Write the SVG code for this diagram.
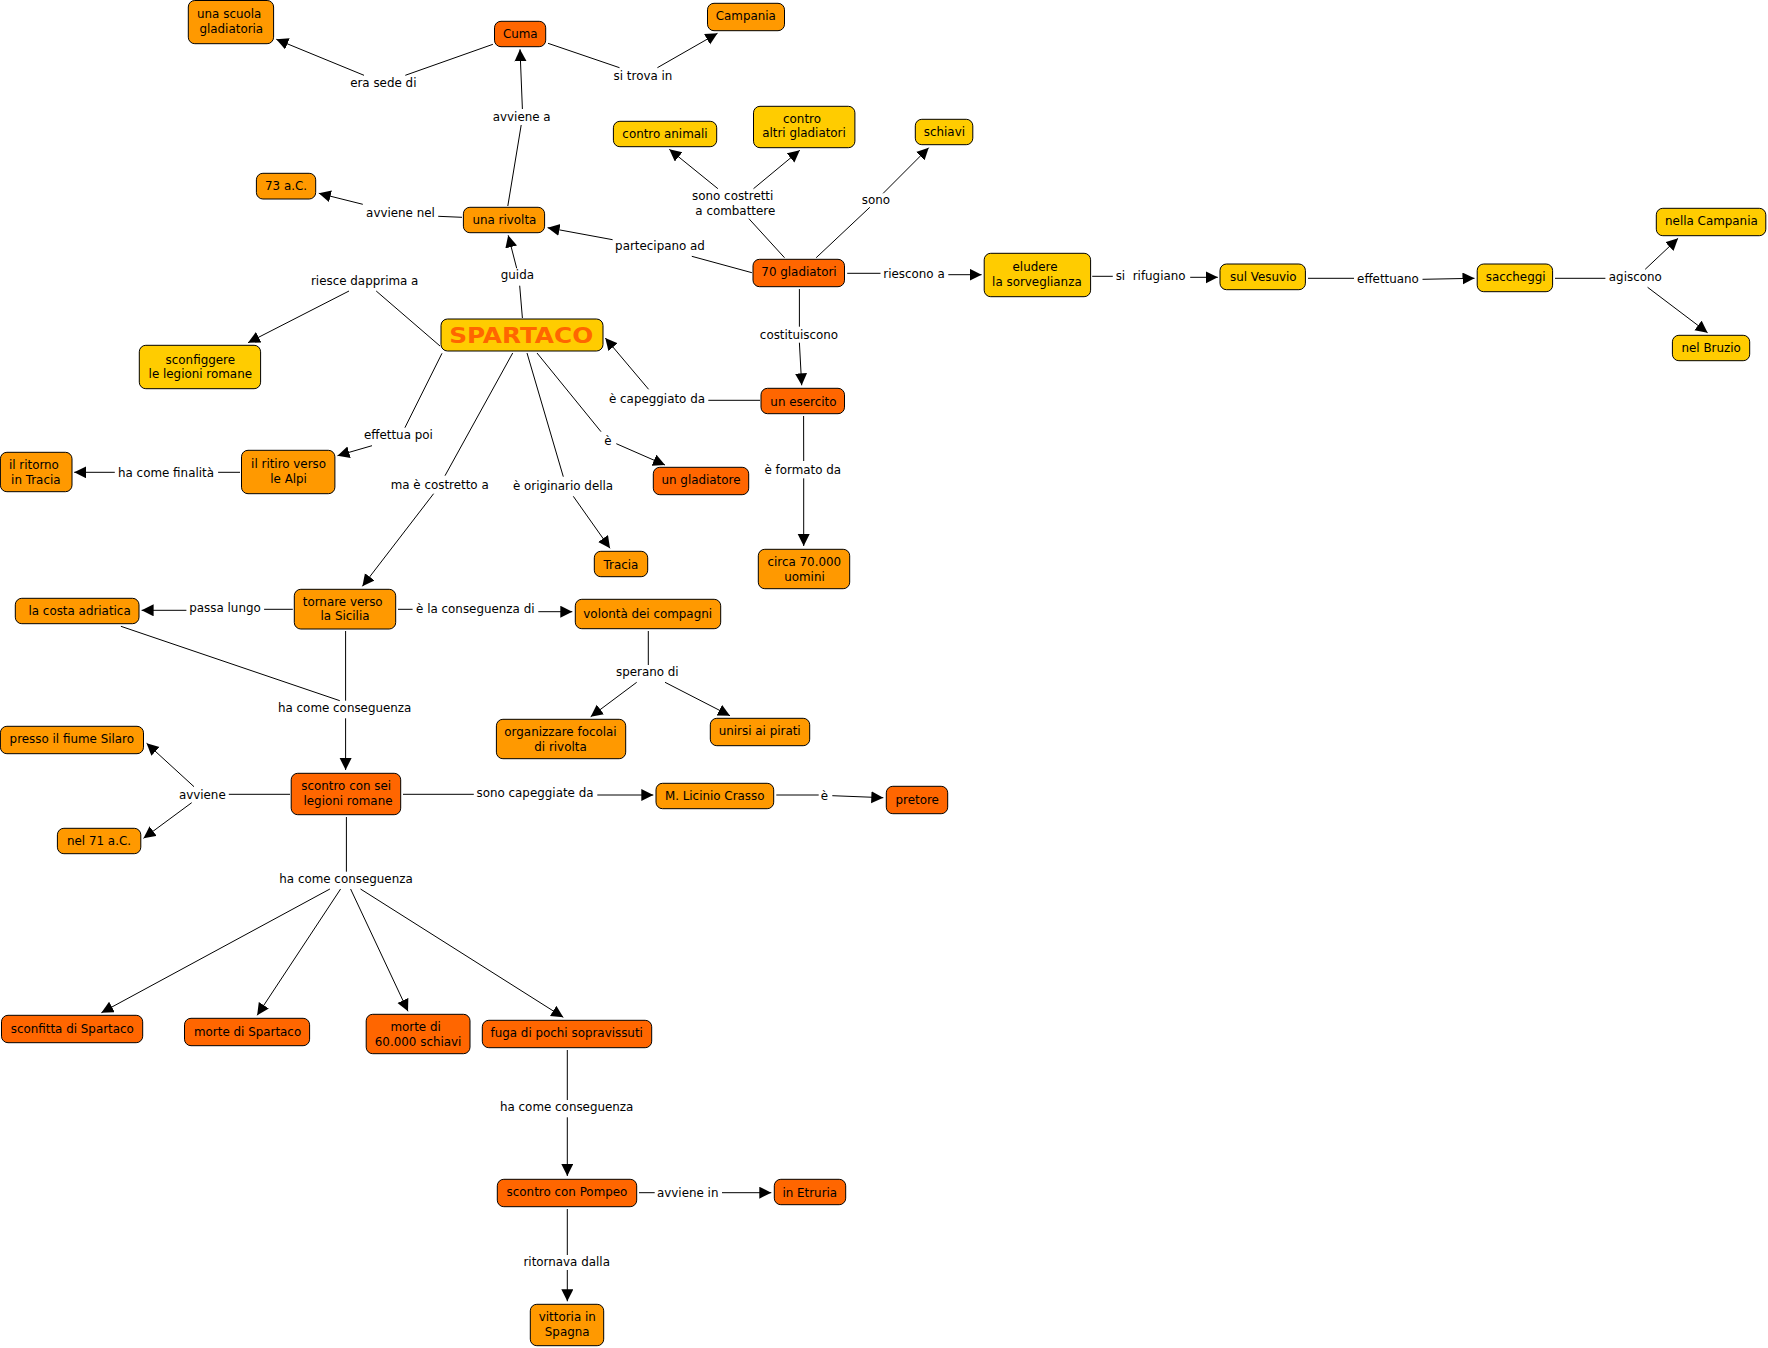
<svg xmlns="http://www.w3.org/2000/svg" width="1768" height="1348" viewBox="0 0 1768 1348">
<style>
text{font-family:"DejaVu Sans",Verdana,sans-serif;font-size:11.9px;fill:#000;text-anchor:middle}
rect{stroke:#000;stroke-width:1;rx:6.5px;ry:6.5px}
.r{fill:#ff6600}.o{fill:#ff9900}.y{fill:#ffcc00}
line{stroke:#000;stroke-width:1}
line.a{marker-end:url(#h)}
text.logo{font-family:"DejaVu Sans",sans-serif;font-weight:bold;font-size:21px;fill:#ff6600}
</style>
<defs><marker id="h" markerUnits="userSpaceOnUse" markerWidth="13" markerHeight="13" refX="12" refY="6" orient="auto"><path d="M0,0L12,6L0,12z" fill="#000"/></marker></defs>
<rect x="0" y="0" width="1768" height="1348" style="fill:#fff;stroke:none"/>
<g id="connectors">
<line x1="492.9" y1="44.3" x2="405.3" y2="75.3"/><line class="a" x1="364" y1="75.3" x2="276.3" y2="39.3"/>
<line x1="548" y1="43.3" x2="619.5" y2="67.7"/><line class="a" x1="657.4" y1="67.7" x2="717.5" y2="33.3"/>
<line x1="507.8" y1="206" x2="521.2" y2="125"/><line class="a" x1="522.4" y1="109" x2="520" y2="49.3"/>
<line x1="462" y1="217.3" x2="438.2" y2="216.3"/><line class="a" x1="362.8" y1="204.3" x2="318.8" y2="193.3"/>
<line x1="751.9" y1="272.7" x2="691.8" y2="256.3"/><line class="a" x1="612.6" y1="239.7" x2="547.6" y2="227.7"/>
<line x1="522.4" y1="318" x2="519.7" y2="285.7"/><line class="a" x1="516.7" y1="268.3" x2="508.2" y2="235.3"/>
<line x1="440" y1="346" x2="376.2" y2="291"/><line class="a" x1="349" y1="291" x2="248" y2="342.7"/>
<line x1="442" y1="353.3" x2="404.9" y2="427.7"/><line class="a" x1="372" y1="445.7" x2="337.5" y2="455.7"/>
<line x1="512.7" y1="353" x2="445" y2="475.7"/><line class="a" x1="433.6" y1="493.7" x2="362.4" y2="586.3"/>
<line x1="527" y1="353" x2="563.3" y2="476.7"/><line class="a" x1="573.3" y1="496.3" x2="610" y2="548.3"/>
<line x1="537" y1="353" x2="601" y2="431.7"/><line class="a" x1="616.3" y1="443.7" x2="665" y2="465"/>
<line x1="760" y1="400.3" x2="708.3" y2="400.3"/><line class="a" x1="648.6" y1="389.3" x2="605.3" y2="338"/>
<line x1="799.4" y1="289" x2="799.4" y2="326.7"/><line class="a" x1="799.4" y1="342.7" x2="801.7" y2="385.3"/>
<line x1="803.6" y1="416" x2="803.7" y2="461"/><line class="a" x1="803.7" y1="478.3" x2="803.7" y2="546"/>
<line x1="784.5" y1="257.7" x2="748.9" y2="218.7"/><line class="a" x1="717.9" y1="188.7" x2="669.3" y2="149.3"/><line class="a" x1="753.5" y1="188.7" x2="799.8" y2="150.3"/>
<line x1="816.2" y1="257.7" x2="869.8" y2="207.3"/><line class="a" x1="883.2" y1="193.3" x2="928.7" y2="147.7"/>
<line x1="847.2" y1="273.3" x2="880.5" y2="273.3"/><line class="a" x1="948.3" y1="274.7" x2="981.6" y2="274.7"/>
<line x1="1092.2" y1="276.3" x2="1112.8" y2="276.3"/><line class="a" x1="1190.2" y1="277.3" x2="1217.8" y2="277.3"/>
<line x1="1308" y1="278.3" x2="1354" y2="278.3"/><line class="a" x1="1422.5" y1="279.3" x2="1474.5" y2="278.3"/>
<line x1="1555" y1="278.3" x2="1605.4" y2="278.3"/><line class="a" x1="1645.2" y1="269.3" x2="1678.1" y2="238.3"/><line class="a" x1="1647.6" y1="287.3" x2="1707.6" y2="332.7"/>
<line x1="240" y1="472.3" x2="218.1" y2="472.3"/><line class="a" x1="114.8" y1="472.3" x2="74.2" y2="472.3"/>
<line x1="292.8" y1="609.3" x2="264.1" y2="609.3"/><line class="a" x1="186.4" y1="610.3" x2="141.6" y2="610.3"/>
<line x1="398" y1="609.3" x2="412.6" y2="609.3"/><line class="a" x1="538.3" y1="611.7" x2="572.3" y2="611.7"/>
<line x1="345.6" y1="631" x2="345.6" y2="700.7"/><line x1="339.8" y1="700.7" x2="120.9" y2="626.3"/><line class="a" x1="345.6" y1="718.3" x2="345.6" y2="770"/>
<line x1="290" y1="794.3" x2="228.8" y2="794.3"/><line class="a" x1="194" y1="786.7" x2="146.6" y2="743.3"/><line class="a" x1="191.7" y1="802.7" x2="143.5" y2="838.3"/>
<line x1="403" y1="794.3" x2="473.8" y2="794.3"/><line class="a" x1="597.3" y1="795" x2="653.3" y2="795"/>
<line x1="776.3" y1="795" x2="818.7" y2="795"/><line class="a" x1="832.3" y1="795.7" x2="883.3" y2="797.7"/>
<line x1="648.3" y1="631" x2="648.3" y2="665"/><line class="a" x1="636.7" y1="682.3" x2="590.7" y2="716.7"/><line class="a" x1="665" y1="682.3" x2="730" y2="715.7"/>
<line x1="346.4" y1="817" x2="346.4" y2="871.7"/><line class="a" x1="329.9" y1="889" x2="101.4" y2="1012.7"/><line class="a" x1="340.6" y1="889" x2="257.2" y2="1015.3"/><line class="a" x1="350.6" y1="889" x2="408" y2="1011.3"/><line class="a" x1="360.5" y1="889" x2="563.3" y2="1017.3"/>
<line x1="567.3" y1="1050" x2="567.3" y2="1100"/><line class="a" x1="567.3" y1="1117.3" x2="567.3" y2="1176"/>
<line x1="639" y1="1192.7" x2="654.7" y2="1192.7"/><line class="a" x1="722" y1="1192.7" x2="771.3" y2="1192.7"/>
<line x1="567.3" y1="1209" x2="567.3" y2="1255"/><line class="a" x1="567.3" y1="1270" x2="567.3" y2="1301.3"/>
</g>
<g id="connector-labels">
<text x="383.3" y="87.3">era sede di</text>
<text x="521.7" y="121">avviene a</text>
<text x="643" y="80">si trova in</text>
<text x="400.5" y="217.3">avviene nel</text>
<text x="517.4" y="279.3">guida</text>
<text x="364.7" y="285.3">riesce dapprima a</text>
<text x="398.4" y="439.3">effettua poi</text>
<text x="660" y="250.3">partecipano ad</text>
<text x="732.7" y="200">sono costretti</text><text x="735.3" y="214.6">a combattere</text>
<text x="876" y="204.3">sono</text>
<text x="914" y="278">riescono a</text>
<text x="1150.6" y="280.3" xml:space="preserve">si  rifugiano</text>
<text x="799" y="339">costituiscono</text>
<text x="657" y="403">è capeggiato da</text>
<text x="608" y="445.3">è</text>
<text x="802.8" y="474">è formato da</text>
<text x="563" y="490">è originario della</text>
<text x="439.7" y="489">ma è costretto a</text>
<text x="166" y="476.6">ha come finalità</text>
<text x="225" y="612.3">passa lungo</text>
<text x="475.3" y="613">è la conseguenza di</text>
<text x="344.7" y="712.3">ha come conseguenza</text>
<text x="202.3" y="799">avviene</text>
<text x="535" y="797.3">sono capeggiate da</text>
<text x="824.3" y="800">è</text>
<text x="647.3" y="676.3">sperano di</text>
<text x="346" y="883.3">ha come conseguenza</text>
<text x="566.7" y="1111.3">ha come conseguenza</text>
<text x="687.7" y="1197">avviene in</text>
<text x="566.7" y="1266.3">ritornava dalla</text>
<text x="1388" y="283.3">effettuano</text>
<text x="1635.3" y="281.3">agiscono</text>
</g>
<g id="una-scuola"><rect class="o" x="188.3" y="0.5" width="85.3" height="43.2"/><text x="229.2" y="18.3">una scuola</text><text x="231.3" y="33">gladiatoria</text></g>
<g id="cuma"><rect class="r" x="494.5" y="21.3" width="51.2" height="25.4"/><text x="520.3" y="38">Cuma</text></g>
<g id="campania"><rect class="o" x="707.5" y="3.3" width="77" height="27.4"/><text x="745.8" y="20">Campania</text></g>
<g id="anno73"><rect class="o" x="256.4" y="173.3" width="59.3" height="25.7"/><text x="286" y="190">73 a.C.</text></g>
<g id="rivolta"><rect class="o" x="463.4" y="207.3" width="81.2" height="25.4"/><text x="504.4" y="224.3">una rivolta</text></g>
<g id="sconfiggere"><rect class="y" x="139.3" y="345.3" width="121.3" height="43.4"/><text x="200.3" y="363.6">sconfiggere</text><text x="200.3" y="378.3">le legioni romane</text></g>
<g id="spartaco"><rect class="y" x="441" y="319" width="162" height="32"/><text class="logo" x="521.2" y="342.7" textLength="144" lengthAdjust="spacingAndGlyphs">SPARTACO</text></g>
<g id="contro-animali"><rect class="y" x="613.4" y="121.3" width="103.3" height="25.4"/><text x="665" y="138.3">contro animali</text></g>
<g id="contro-altri"><rect class="y" x="753.5" y="106.3" width="101.4" height="41.4"/><text x="802" y="122.6">contro</text><text x="804" y="137.3">altri gladiatori</text></g>
<g id="schiavi"><rect class="y" x="915.3" y="119.3" width="57.5" height="25.4"/><text x="944.4" y="136.3">schiavi</text></g>
<g id="gladiatori70"><rect class="r" x="753" y="259.3" width="91.5" height="27.4"/><text x="799" y="276.3">70 gladiatori</text></g>
<g id="eludere"><rect class="y" x="984.2" y="253.3" width="106.4" height="43.4"/><text x="1035" y="271.3">eludere</text><text x="1036.9" y="286">la sorveglianza</text></g>
<g id="esercito"><rect class="r" x="761" y="388.3" width="83.5" height="25.4"/><text x="803.4" y="406">un esercito</text></g>
<g id="vesuvio"><rect class="y" x="1220" y="264" width="85.4" height="25.7"/><text x="1263.3" y="281.3">sul Vesuvio</text></g>
<g id="saccheggi"><rect class="y" x="1477.2" y="264" width="75.4" height="27.7"/><text x="1515.7" y="281.3">saccheggi</text></g>
<g id="nella-campania"><rect class="y" x="1656.3" y="208.3" width="109.5" height="27.4"/><text x="1711.4" y="225.3">nella Campania</text></g>
<g id="bruzio"><rect class="y" x="1672.4" y="335.3" width="77.3" height="25.4"/><text x="1711.2" y="352.3">nel Bruzio</text></g>
<g id="ritorno"><rect class="o" x="0.4" y="452.3" width="71.6" height="39.4"/><text x="33.9" y="469.3">il ritorno</text><text x="35.8" y="484">in Tracia</text></g>
<g id="ritiro"><rect class="o" x="241.5" y="450.3" width="93.4" height="43.4"/><text x="288.6" y="468.3">il ritiro verso</text><text x="288.6" y="483">le Alpi</text></g>
<g id="tornare"><rect class="o" x="294.3" y="589.3" width="101.4" height="39.7"/><text x="342.7" y="605.6">tornare verso</text><text x="345" y="620.3">la Sicilia</text></g>
<g id="costa"><rect class="o" x="15.3" y="598.3" width="123.7" height="25.4"/><text x="79.6" y="615.3">la costa adriatica</text></g>
<g id="presso"><rect class="o" x="0.4" y="726.3" width="143.1" height="27.4"/><text x="71.8" y="743.3">presso il fiume Silaro</text></g>
<g id="scontro-sei"><rect class="r" x="291.2" y="773.3" width="109.5" height="41.4"/><text x="346.2" y="790.3">scontro con sei</text><text x="348" y="805">legioni romane</text></g>
<g id="nel71"><rect class="o" x="57.4" y="828.3" width="83.4" height="25.4"/><text x="99" y="845.3">nel 71 a.C.</text></g>
<g id="gladiatore"><rect class="r" x="653.3" y="467.3" width="95.4" height="27.4"/><text x="701" y="484.3">un gladiatore</text></g>
<g id="tracia"><rect class="o" x="594.3" y="551.3" width="53.4" height="25.4"/><text x="621" y="569">Tracia</text></g>
<g id="circa"><rect class="o" x="758.3" y="549.3" width="91.4" height="39.4"/><text x="804.3" y="566.3">circa 70.000</text><text x="804.5" y="581">uomini</text></g>
<g id="volonta"><rect class="o" x="575.3" y="599.3" width="145.4" height="29.4"/><text x="647.7" y="618.3">volontà dei compagni</text></g>
<g id="organizzare"><rect class="o" x="496.4" y="719.3" width="129.3" height="39.4"/><text x="560.5" y="736.3">organizzare focolai</text><text x="560.5" y="751">di rivolta</text></g>
<g id="pirati"><rect class="o" x="710.3" y="718.3" width="99.4" height="27.4"/><text x="759.7" y="735.3">unirsi ai pirati</text></g>
<g id="crasso"><rect class="o" x="656" y="783.3" width="117.7" height="25.4"/><text x="714.7" y="800">M. Licinio Crasso</text></g>
<g id="pretore"><rect class="r" x="886.3" y="786.3" width="61.4" height="27.4"/><text x="917.2" y="803.6">pretore</text></g>
<g id="sconfitta"><rect class="r" x="1.5" y="1015.3" width="141.2" height="27.4"/><text x="72.3" y="1032.6">sconfitta di Spartaco</text></g>
<g id="morte-spartaco"><rect class="r" x="184.5" y="1018.3" width="125.1" height="27.4"/><text x="247.6" y="1035.6">morte di Spartaco</text></g>
<g id="morte-schiavi"><rect class="r" x="366.2" y="1014.3" width="103.8" height="39.4"/><text x="415.6" y="1031.3">morte di</text><text x="418.1" y="1046">60.000 schiavi</text></g>
<g id="fuga"><rect class="r" x="482.3" y="1020.3" width="169.4" height="27.4"/><text x="566.7" y="1037.3">fuga di pochi sopravissuti</text></g>
<g id="pompeo"><rect class="r" x="497.3" y="1179.3" width="139.4" height="27.4"/><text x="567" y="1196">scontro con Pompeo</text></g>
<g id="etruria"><rect class="r" x="774.3" y="1179.3" width="71.4" height="25.4"/><text x="809.8" y="1197">in Etruria</text></g>
<g id="vittoria"><rect class="o" x="530.3" y="1304.3" width="73.4" height="41.4"/><text x="567.3" y="1321">vittoria in</text><text x="567.2" y="1335.6">Spagna</text></g>
</svg>
